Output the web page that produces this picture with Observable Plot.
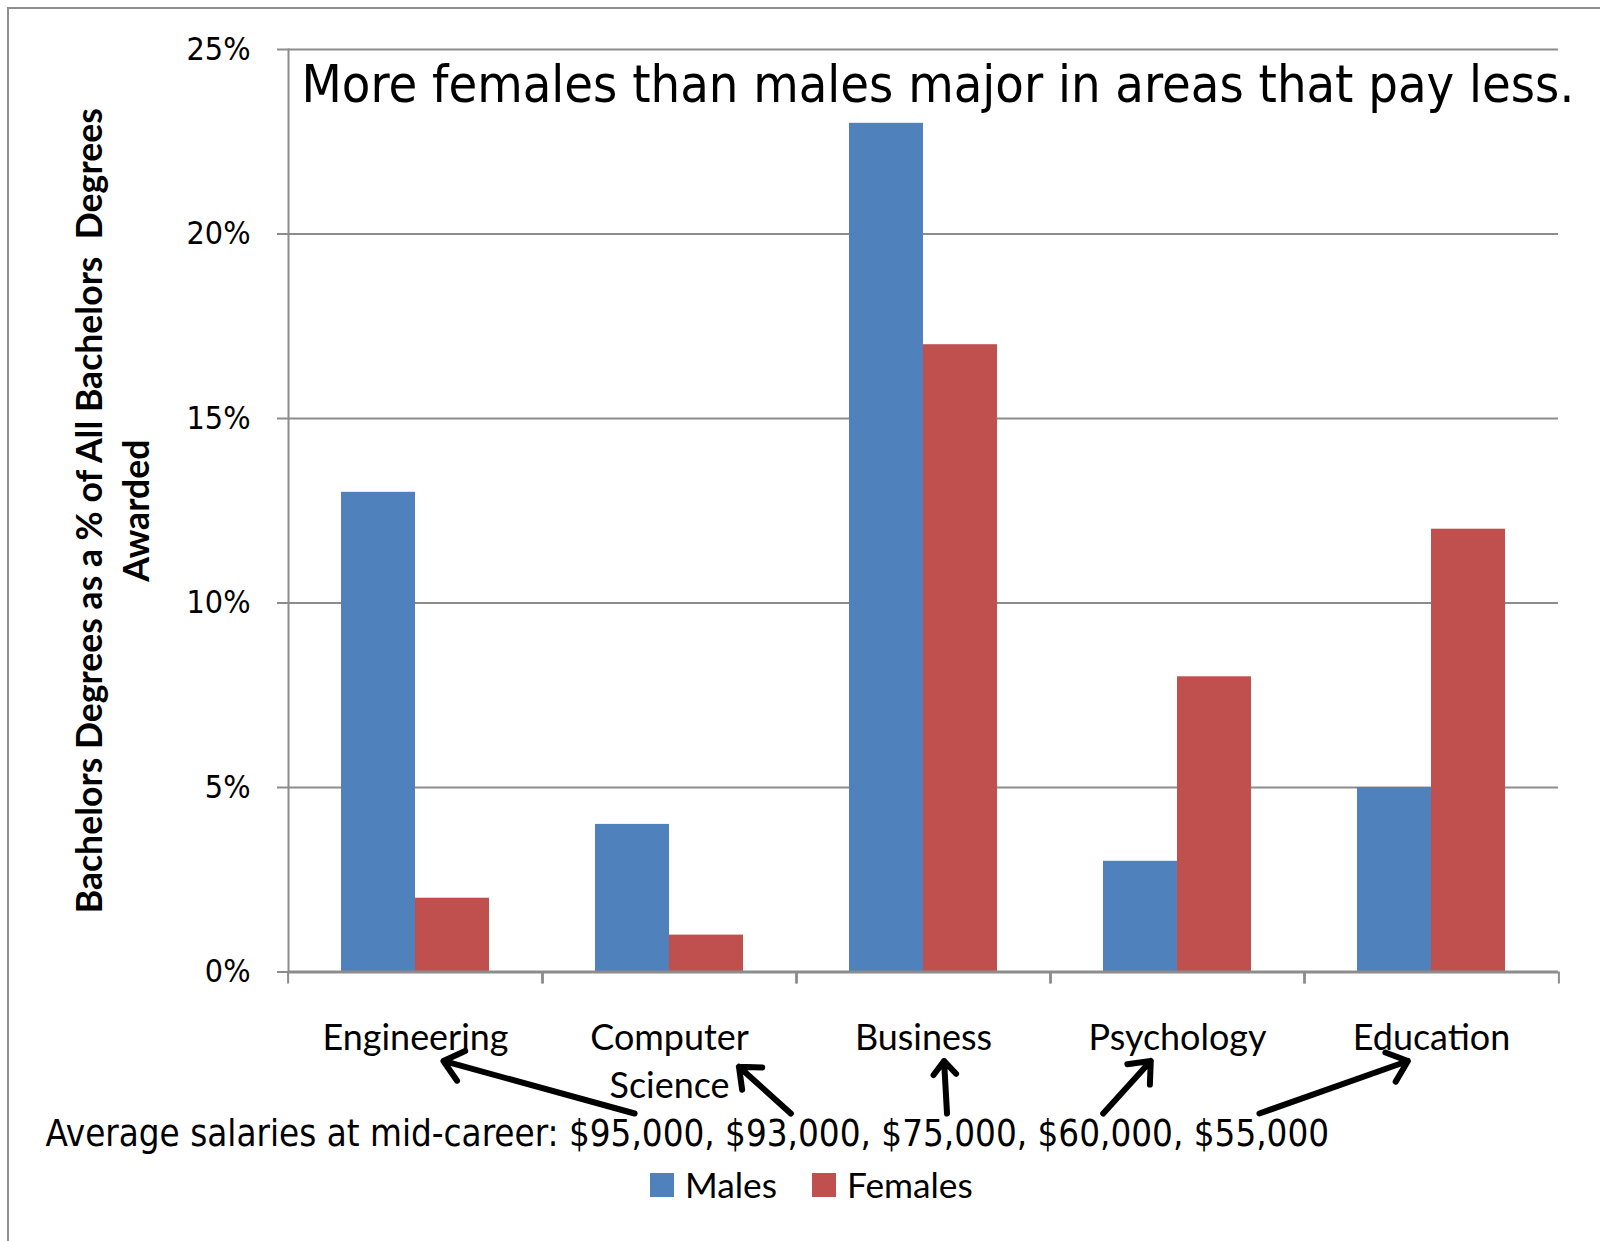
<!DOCTYPE html>
<html><head><meta charset="utf-8">
<script src="https://cdn.jsdelivr.net/npm/d3@7"></script>
<script src="https://cdn.jsdelivr.net/npm/@observablehq/plot@0.6"></script>
<style>
html,body{margin:0;padding:0;background:#fff;}
#wrap{position:relative;width:1600px;height:1241px;overflow:hidden;background:#fff;}
#border{position:absolute;left:7px;top:7px;width:1700px;height:1400px;border-left:2px solid #8f8f8f;border-top:2px solid #8f8f8f;}
#chart,#overlay{position:absolute;left:0;top:0;}
#overlay{pointer-events:none;}
#legend{position:absolute;left:650px;top:1163px;}
.lg-swatches{margin:0 !important;color:#000 !important;}
.lg-swatch > svg{margin-right:11px !important;}
.lg-swatches-wrap .lg-swatch{margin-right:35px !important;}
</style></head>
<body><div id="wrap"><div id="border"></div><div id="chart"></div><div id="overlay"></div><div id="legend"></div></div>
<script>
// ---- data ----
const categories = ["Engineering", "Computer Science", "Business", "Psychology", "Education"];
const series = ["Males", "Females"];
const males = [13, 4, 23, 3, 5];
const females = [2, 1, 17, 8, 12];
const yTicks = [0, 5, 10, 15, 20, 25];
const salaries = ["$95,000", "$93,000", "$75,000", "$60,000", "$55,000"];
const title = "More females than males major in areas that pay less.";
const yTitleLines = ["Bachelors Degrees as a % of All Bachelors\u00a0 Degrees", "Awarded"];
const salaryPrefix = "Average salaries at mid-career: ";
const colors = ["#4F81BD", "#C0504D"];

const rows = categories.flatMap((c, i) => [
  {category: c, sex: series[0], value: males[i]},
  {category: c, sex: series[1], value: females[i]}
]);
const salaryLine = salaryPrefix + salaries.join(", ");

// ---- fonts ----
const TAHOMA = '"DejaVu Sans Condensed", "DejaVu Sans", sans-serif';
const CALIBRI = 'Lato, "Open Sans", sans-serif';
const ctx = document.createElement("canvas").getContext("2d");
function textW(txt, size, family, weight = "normal") { ctx.font = `${weight} ${size}px ${family}`; return ctx.measureText(txt).width; }
function fitSize(txt, target, family, weight) { return 100 * target / textW(txt, 100, family, weight); }

const titleFs = fitSize(title, 1273, TAHOMA);
const salFs = fitSize(salaryLine, 1284, TAHOMA);
const tickFs = fitSize("25%", 64, TAHOMA);
const catFs = fitSize("Engineering", 186, CALIBRI);
const yFs = fitSize(yTitleLines[0], 807, CALIBRI, "bold");
const legFs = fitSize("Males", 92, CALIBRI);

// ---- layout ----
const W = 1600, H = 1160, mL = 286, mR = 40, mT = 49, y0 = 971.5, mB = H - y0;
const bw = (W - mL - mR) / categories.length;
const GRID = "#8c8c8c";
const salTop = 1120;

const chart = Plot.plot({
  width: W, height: H,
  marginLeft: mL, marginRight: mR, marginTop: mT, marginBottom: mB,
  style: {fontFamily: TAHOMA, fontSize: "30px", color: "#000", background: "transparent", overflow: "visible"},
  fx: {domain: categories, padding: 0, axis: null, label: null},
  x: {domain: series, paddingInner: 0, paddingOuter: 0.707, axis: null},
  y: {domain: [0, 25], axis: null},
  color: {domain: series, range: colors},
  marks: [
    Plot.gridY(yTicks.slice(1), {stroke: GRID, strokeOpacity: 1, strokeWidth: 2}),
    Plot.barY(rows, {fx: "category", x: "sex", y: "value", fill: "sex"}),
    Plot.ruleY([0], {stroke: GRID, strokeWidth: 3}),
    Plot.frame({anchor: "left", facetAnchor: "left", stroke: GRID, strokeWidth: 2}),
    Plot.axisY(yTicks, {anchor: "left", tickSize: 11, tickPadding: 27, tickFormat: d => d + "%",
      stroke: GRID, strokeWidth: 2, fill: "#000", fontSize: tickFs, fontFamily: TAHOMA, label: null}),
    Plot.axisFx({anchor: "bottom", tickSize: 0, tickPadding: 43.5, tickFormat: d => d.replace(" ", "\n"),
      fontSize: catFs, fontFamily: CALIBRI, lineHeight: 48 / catFs, fill: "#000", label: null}),
    Plot.axisFx({anchor: "bottom", tickSize: 12, fill: "none", stroke: GRID, strokeWidth: 2, dx: -bw / 2, label: null}),
    Plot.axisFx([categories[categories.length - 1]], {anchor: "bottom", tickSize: 12, fill: "none", stroke: GRID, strokeWidth: 2, dx: bw / 2, label: null}),
    Plot.text([title], {frameAnchor: "top-left", facetAnchor: "left", textAnchor: "start", lineAnchor: "top",
      dx: 13, dy: 16, fontSize: titleFs, fontFamily: TAHOMA, fill: "#000"}),
    Plot.text([salaryLine], {frameAnchor: "bottom-left", facetAnchor: "left", textAnchor: "start", lineAnchor: "top",
      dx: 43 - mL, dy: salTop - y0, fontSize: salFs, fontFamily: TAHOMA, fill: "#000"}),
    Plot.text([yTitleLines.join("\n")], {frameAnchor: "left", facetAnchor: "left", rotate: -90, textAnchor: "middle", lineAnchor: "middle",
      dx: 107.5 - mL, lineHeight: 47 / yFs, fontWeight: "bold", fontFamily: CALIBRI, fontSize: yFs, fill: "#000"})
  ]
});
document.getElementById("chart").appendChild(chart);

// ---- annotation arrows: salary text -> category label ----
const svgRect = chart.getBoundingClientRect();
const fxS = chart.scale("fx");
const centers = categories.map(c => fxS.apply(c) + fxS.bandwidth / 2);
const textEls = Array.from(chart.querySelectorAll("text"));
function labelBoxes(c) {
  const el = textEls.find(t => t.textContent === c.replace(" ", ""));
  if (!el) return null;
  const parts = el.querySelectorAll("tspan").length ? Array.from(el.querySelectorAll("tspan")) : [el];
  return parts.map(p => {
    const r = p.getBoundingClientRect();
    return {left: r.left - svgRect.left, right: r.right - svgRect.left, top: r.top - svgRect.top, bottom: r.bottom - svgRect.top};
  });
}
const salX0 = 43;
const tails = salaries.map((s, i) => {
  const before = salaryPrefix + salaries.slice(0, i).map(t => t + ", ").join("");
  return salX0 + textW(before, salFs, TAHOMA) + textW(s, salFs, TAHOMA) / 2;
});
const tailY = salTop - 7;
const arrowRows = categories.map((c, i) => {
  const tx = tails[i];
  const boxes = labelBoxes(c);
  const first = boxes ? boxes[0] : {left: centers[i] - 90, right: centers[i] + 90, top: 1020, bottom: 1056};
  const last = boxes ? boxes[boxes.length - 1] : first;
  let hx, hy;
  if (boxes && boxes.length > 1) {
    hx = last.right + 0.25 * catFs;
    hy = last.top + 0.1 * catFs;
  } else {
    const half = (first.right - first.left) / 2, lim = 0.3 * half;
    hx = Math.max(centers[i] - lim, Math.min(centers[i] + lim, tx));
    hy = first.bottom + 0.08 * catFs;
  }
  return {x1: tx, y1: tailY, x2: hx, y2: hy};
});
const overlay = Plot.plot({
  width: W, height: H, margin: 0,
  style: {background: "transparent", overflow: "visible"},
  x: {type: "identity", axis: null},
  y: {type: "identity", axis: null},
  marks: [Plot.arrow(arrowRows, {x1: "x1", y1: "y1", x2: "x2", y2: "y2", stroke: "#000", strokeWidth: 6, headLength: 6, headAngle: 80})]
});
document.getElementById("overlay").appendChild(overlay);

// ---- legend ----
const leg = Plot.legend({legend: "swatches", color: {domain: series, range: colors}, swatchSize: 24, className: "lg",
  style: {fontFamily: CALIBRI, fontSize: legFs + "px", color: "#000"}});
document.getElementById("legend").appendChild(leg);
</script>
</body></html>
